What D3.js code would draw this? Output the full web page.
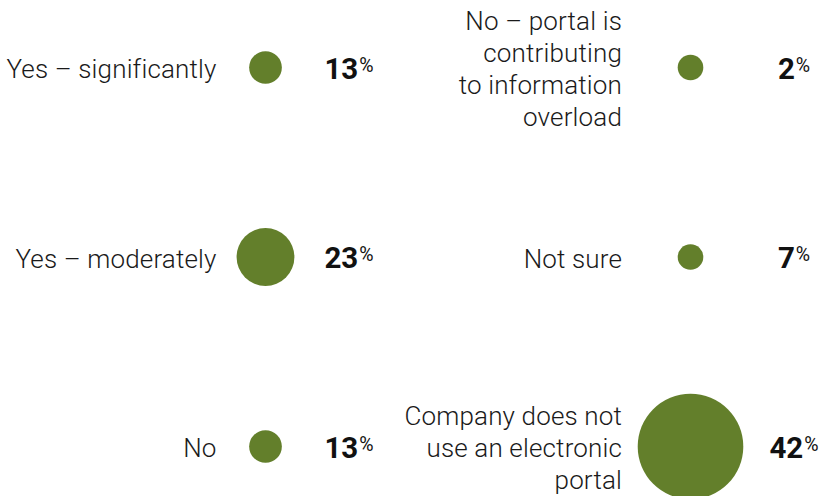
<!DOCTYPE html>
<html><head><meta charset="utf-8">
<script src="https://cdn.jsdelivr.net/npm/d3@7"></script>
<style>
html,body{margin:0;padding:0;background:#fff;}
svg{display:block;}
</style></head>
<body>
<svg id="chart" width="823" height="496"></svg>
<script>
// ---- data ----
const categories = [
  "Yes – significantly",
  "Yes – moderately",
  "No",
  "No – portal is\ncontributing\nto information\noverload",
  "Not sure",
  "Company does not\nuse an electronic\nportal"
];
const values = [13, 23, 13, 2, 7, 42];
const columnOf = [0, 0, 0, 1, 1, 1];
const rowOf = [0, 1, 2, 0, 1, 2];

// ---- layout ----
const svg = d3.select("#chart");
const green = "#637f2b";
const cols = [
  {label: 216.5, circle: 265.5, value: 349},
  {label: 622, circle: 690.5, value: 794}
];
const y = d3.scalePoint().domain([0, 1, 2]).range([67.5, 446.5]);
const r = d3.scaleLinear().domain([0, 42]).range([0, 52.8]);
const minR = 12.8;
const lineH = 32;
const labelFont = "Roboto, 'Liberation Sans', sans-serif";

const items = values.map((v, i) => ({v, label: categories[i], col: columnOf[i], row: rowOf[i]}));

const g = svg.selectAll("g.item").data(items).join("g").attr("class", "item");

g.append("circle")
  .attr("cx", d => cols[d.col].circle)
  .attr("cy", d => y(d.row))
  .attr("r", d => Math.max(minR, r(d.v)))
  .attr("fill", green);

// category labels
g.each(function(d) {
  const lines = d.label.split("\n");
  const n = lines.length;
  const t = d3.select(this).append("text")
    .attr("text-anchor", "end")
    .attr("font-family", labelFont)
    .attr("font-weight", 300)
    .attr("font-size", 26)
    .attr("letter-spacing", 0.15)
    .attr("fill", "#1a1a1a");
  lines.forEach((ln, k) => {
    t.append("tspan")
      .attr("x", cols[d.col].label)
      .attr("y", y(d.row) + (k - (n - 1) / 2) * lineH + 10.5)
      .text(ln);
  });
});

// value labels
g.each(function(d) {
  const t = d3.select(this).append("text")
    .attr("x", cols[d.col].value)
    .attr("y", y(d.row) + 11)
    .attr("text-anchor", "middle")
    .attr("font-family", labelFont)
    .attr("fill", "#111");
  t.append("tspan").attr("font-weight", 700).attr("font-size", 29.5).text(d.v);
  t.append("tspan").attr("font-weight", 400).attr("font-size", 19.5).attr("dx", 1).attr("dy", -7).text("%");
});
</script>
</body></html>
